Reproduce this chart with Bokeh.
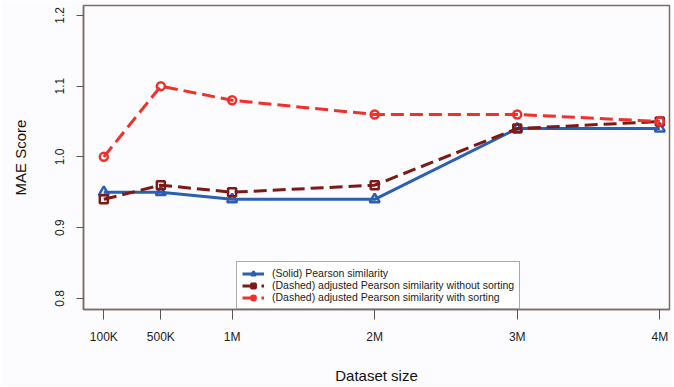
from bokeh.plotting import figure
from bokeh.models import FixedTicker, Range1d, Legend, LegendItem
from bokeh.embed import file_html
from bokeh.resources import INLINE

# ---- data ----
sizes_m = [0.1, 0.5, 1, 2, 3, 4]
x_labels = ["100K", "500K", "1M", "2M", "3M", "4M"]
pearson = [0.95, 0.95, 0.94, 0.94, 1.04, 1.04]
adj_nosort = [0.94, 0.96, 0.95, 0.96, 1.04, 1.05]
adj_sort = [1.00, 1.10, 1.08, 1.06, 1.06, 1.05]
y_ticks = [0.8, 0.9, 1.0, 1.1, 1.2]
y_labels = ["0.8", "0.9", "1.0", "1.1", "1.2"]
series_names = ["(Solid) Pearson similarity",
                "(Dashed) adjusted Pearson similarity without sorting",
                "(Dashed) adjusted Pearson similarity with sorting"]

BLUE = "#2b5fb4"
DARKRED = "#7e1a16"
RED = "#f2302a"
BG = "#fcfcfe"
FRAME = "#7d6c6a"
FONT = "Liberation Sans"

p = figure(width=672, height=386, output_backend="svg", toolbar_location=None,
           x_range=Range1d(-0.0424, 4.068), y_range=Range1d(0.7842, 1.214),
           min_border_left=83, min_border_right=3, min_border_top=5, min_border_bottom=73)
p.background_fill_color = BG
p.border_fill_color = BG
p.outline_line_color = FRAME
p.outline_line_width = 1.5
p.grid.visible = False

# axes
xa = p.xaxis[0]
xa.ticker = FixedTicker(ticks=sizes_m)
xa.major_label_overrides = {t: l for t, l in zip(sizes_m, x_labels)}
xa.minor_tick_line_color = None
xa.major_tick_in = 0
xa.major_tick_out = 10
xa.major_tick_line_color = "#555555"
xa.axis_line_color = FRAME
xa.axis_line_width = 1.5
xa.major_label_text_font = FONT
xa.major_label_text_font_size = "12px"
xa.major_label_text_color = "#222222"
xa.major_label_standoff = 10
xa.axis_label = "Dataset size"
xa.axis_label_text_font = FONT
xa.axis_label_text_font_size = "15px"
xa.axis_label_text_font_style = "normal"
xa.axis_label_text_color = "#111111"
xa.axis_label_standoff = 20

ya = p.yaxis[0]
ya.ticker = FixedTicker(ticks=y_ticks)
ya.major_label_overrides = {t: l for t, l in zip(y_ticks, y_labels)}
ya.minor_tick_line_color = None
ya.major_tick_in = 0
ya.major_tick_out = 7
ya.major_tick_line_color = "#555555"
ya.axis_line_color = FRAME
ya.axis_line_width = 1.5
ya.major_label_orientation = "vertical"
ya.major_label_text_font = FONT
ya.major_label_text_font_size = "12px"
ya.major_label_text_color = "#222222"
ya.major_label_standoff = 12
ya.axis_label = "MAE Score"
ya.axis_label_text_font = FONT
ya.axis_label_text_font_size = "15px"
ya.axis_label_text_font_style = "normal"
ya.axis_label_text_color = "#111111"
ya.axis_label_standoff = 24

# series
l1 = p.line(sizes_m, pearson, line_color=BLUE, line_width=3)
m1 = p.scatter(sizes_m, pearson, marker="triangle", size=10, fill_color=None,
               line_color=BLUE, line_width=2.5)
l2 = p.line(sizes_m, adj_nosort, line_color=DARKRED, line_width=3, line_dash="13 6")
m2 = p.scatter(sizes_m, adj_nosort, marker="square", size=8, fill_color=None,
               line_color=DARKRED, line_width=2.5)
l3 = p.line(sizes_m, adj_sort, line_color=RED, line_width=3, line_dash="13 6")
m3 = p.scatter(sizes_m, adj_sort, marker="circle", size=8, fill_color=None,
               line_color=RED, line_width=2.5)

legend = Legend(items=[LegendItem(label=series_names[0], renderers=[l1, m1]),
                       LegendItem(label=series_names[1], renderers=[l2, m2]),
                       LegendItem(label=series_names[2], renderers=[l3, m3])],
                location=(153, 0), margin=0, padding=5, spacing=0,
                glyph_width=22, glyph_height=11, label_height=11,
                label_standoff=8, label_text_font=FONT,
                label_text_font_size="10.5px", label_text_color="#222222",
                border_line_color="#555555", border_line_width=1,
                background_fill_color="white", background_fill_alpha=1)
p.add_layout(legend, "center")

open("out.html", "w").write(file_html(p, INLINE))
